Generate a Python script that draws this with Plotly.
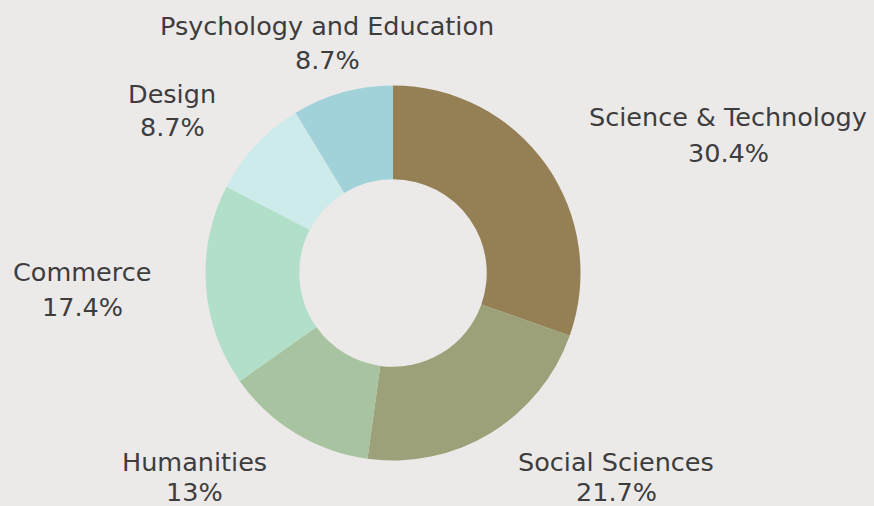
import plotly.graph_objects as go

# Data (counts; percentages derived: 7/23 = 30.4%, etc.)
categories = ["Science & Technology", "Social Sciences", "Humanities",
              "Commerce", "Design", "Psychology and Education"]
counts = [7, 5, 3, 4, 2, 2]
colors = ["#957f55", "#9da17a", "#a8c39f", "#b1dfca", "#cdebea", "#a1d2da"]

# label placement in pixels: (x center, y of name line, y of percent line)
label_pos = {
    "Science & Technology": (728, 117, 153),
    "Social Sciences": (616, 462, 492),
    "Humanities": (194, 462, 492),
    "Commerce": (82, 272, 307),
    "Design": (172, 94, 127),
    "Psychology and Education": (327, 26, 60),
}

W, H = 874, 506
BG = "#ece9e9"
TXT = "#3d3d3d"
FONT = "DejaVu Sans"
FS = 25.5

def fmt_pct(v, total):
    s = f"{v / total * 100:.3g}"
    if "." in s:
        s = s.rstrip("0").rstrip(".")
    return s + "%"

total = sum(counts)

cx, cy, r = 393, 273, 187.5
fig = go.Figure(go.Pie(
    labels=categories,
    values=counts,
    sort=False,
    direction="clockwise",
    rotation=0,
    hole=0.5,
    marker=dict(colors=colors, line=dict(width=0)),
    textinfo="none",
    hoverinfo="label+percent",
    showlegend=False,
    domain=dict(x=[(cx - r) / W, (cx + r) / W], y=[1 - (cy + r) / H, 1 - (cy - r) / H]),
))

annotations = []
for cat, v in zip(categories, counts):
    xc, y1, y2 = label_pos[cat]
    for txt, yy in ((cat, y1), (fmt_pct(v, total), y2)):
        annotations.append(dict(text=txt, x=xc / W, y=1 - yy / H, xref="paper", yref="paper",
                                showarrow=False, xanchor="center", yanchor="middle",
                                font=dict(family=FONT, size=FS, color=TXT)))

fig.update_layout(
    width=W, height=H,
    margin=dict(l=0, r=0, t=0, b=0),
    paper_bgcolor=BG, plot_bgcolor=BG,
    annotations=annotations,
)

fig.write_html("out.html",
               config={"displayModeBar": False},
               post_script="document.body.style.margin='0';document.body.style.overflow='hidden';"
                           "document.body.style.background='" + BG + "';")
